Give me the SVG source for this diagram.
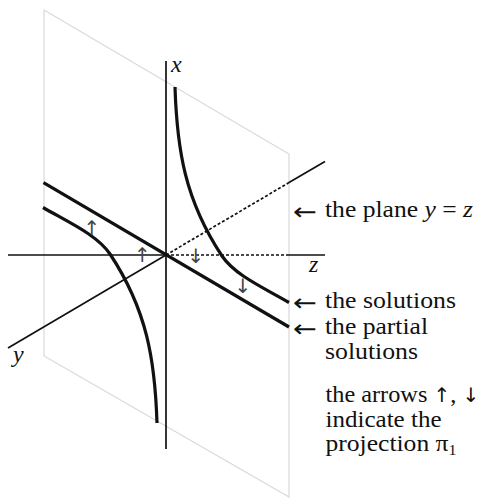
<svg xmlns="http://www.w3.org/2000/svg" width="483" height="498" viewBox="0 0 483 498">
<style>
.plane{fill:none;stroke:#d9d9d9;stroke-width:1.2}
.axis{fill:none;stroke:#111;stroke-width:1.7}
.dot{fill:none;stroke:#111;stroke-width:1.7;stroke-dasharray:3 2}
.curve{fill:none;stroke:#111;stroke-width:3.2;stroke-linecap:butt}
.lbl{font-family:"Liberation Serif","Times New Roman",serif;font-size:24px;fill:#111}
.it{font-style:italic}
.ar{font-family:"DejaVu Sans",sans-serif;font-style:normal}
.la{font-family:"DejaVu Sans",sans-serif;font-size:24px;fill:#111}
.sm{font-family:"DejaVu Sans",sans-serif;font-size:20px;fill:#444;text-anchor:middle}
</style>
<rect width="483" height="498" fill="#fff"/>
<g id="plane">
<polygon class="plane" points="44,10 289,154 289,497 44,356"/>
</g>
<g id="axes">
<line class="axis" x1="166" y1="61" x2="166" y2="449"/>
<line class="axis" x1="8" y1="255" x2="166" y2="255"/>
<line class="dot" x1="166" y1="255" x2="289" y2="255"/>
<line class="axis" x1="289" y1="255" x2="325" y2="255"/>
<line class="axis" x1="8" y1="348" x2="166" y2="255"/>
<line class="dot" x1="166" y1="255" x2="289" y2="182.6"/>
<line class="axis" x1="289" y1="182.6" x2="325" y2="161.4"/>
</g>
<g id="partial-solutions">
<line class="curve" x1="43.5" y1="182.7" x2="289" y2="327"/>
</g>
<g id="solutions">
<path class="curve" d="M175,87 C177,150 185,200 222,256 C235,275 262,287 289,302.5"/>
<path class="curve" d="M175,87 C177,150 185,200 222,256 C235,275 262,287 289,302.5" transform="rotate(180 166 255)"/>
</g>
<g id="projection-arrows">
<text class="sm" x="92" y="235">↑</text>
<text class="sm" x="142.5" y="262">↑</text>
<text class="sm" x="196" y="263">↓</text>
<text class="sm" x="243" y="293">↓</text>
</g>
<g id="axis-labels">
<text class="lbl it" x="171" y="72">x</text>
<text class="lbl it" x="13" y="362">y</text>
<text class="lbl it" x="309" y="272">z</text>
</g>
<g id="annotations">
<text class="la" x="293" y="220" textLength="24" lengthAdjust="spacingAndGlyphs">←</text>
<text class="lbl" x="325" y="217" textLength="148" lengthAdjust="spacingAndGlyphs">the plane <tspan class="it">y</tspan> = <tspan class="it">z</tspan></text>
<text class="la" x="293" y="311" textLength="24" lengthAdjust="spacingAndGlyphs">←</text>
<text class="lbl" x="325" y="308" textLength="131" lengthAdjust="spacingAndGlyphs">the solutions</text>
<text class="la" x="293" y="336.5" textLength="24" lengthAdjust="spacingAndGlyphs">←</text>
<text class="lbl" x="325" y="334" textLength="103" lengthAdjust="spacingAndGlyphs">the partial</text>
<text class="lbl" x="325" y="359" textLength="93" lengthAdjust="spacingAndGlyphs">solutions</text>
<text class="lbl" x="325.5" y="402" textLength="154" lengthAdjust="spacingAndGlyphs">the arrows  <tspan class="ar" font-size="20">↑</tspan>, <tspan class="ar" font-size="20">↓</tspan></text>
<text class="lbl" x="325.5" y="426.5" textLength="116" lengthAdjust="spacingAndGlyphs">indicate the</text>
<text class="lbl" x="325.5" y="451" textLength="131" lengthAdjust="spacingAndGlyphs">projection π<tspan font-size="15" dy="4">1</tspan></text>
</g>
</svg>
